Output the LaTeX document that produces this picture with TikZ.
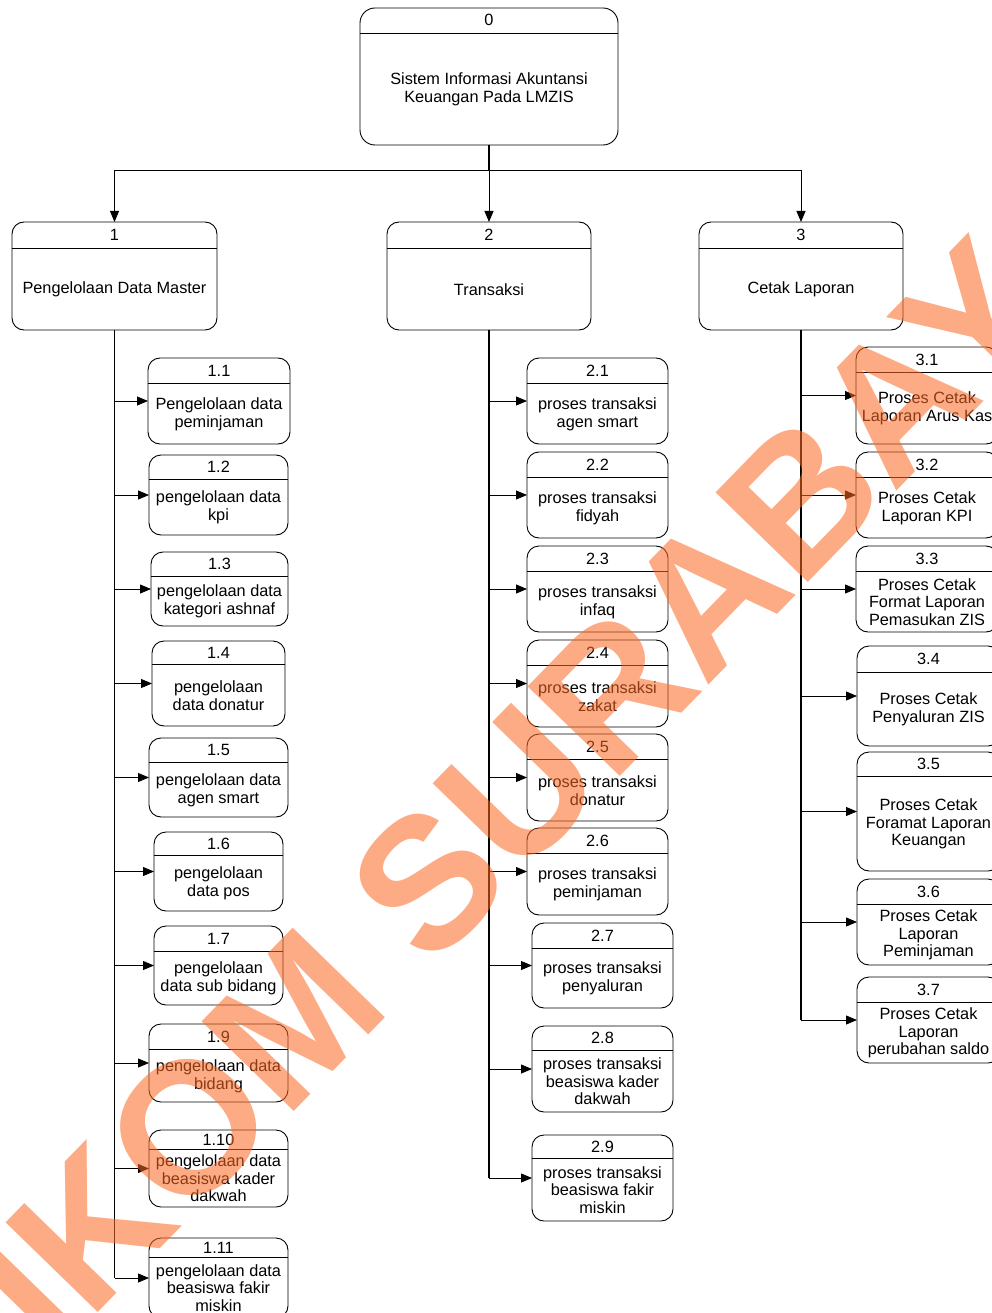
\documentclass[tikz,border=0pt]{standalone}
\usepackage{fontspec}
\setmainfont{Liberation Sans}
\usetikzlibrary{arrows.meta}
\definecolor{wmcol}{RGB}{250,105,35}
\tikzset{
  pbox/.style={draw=black, line width=0.9pt, rounded corners=12pt, inner sep=0pt, outer sep=0pt},
  hline/.style={draw=black, line width=0.9pt},
  ptext/.style={font=\fontsize{16.3}{17.6}\selectfont, align=center, inner sep=0pt},
  trunk/.style={draw=black, line width=1.4pt},
  branch/.style={draw=black, line width=0.8pt, -{Triangle[length=11pt,width=9pt]}},
  wm/.style={text=wmcol, text opacity=0.56, inner sep=0pt, font=\fontsize{187}{187}\selectfont\bfseries}
}
\newcommand{\proc}[8]{%
  \node[pbox, minimum width={(#4-#2)*1pt}, minimum height={(#5-#3)*1pt}] (#1) at ({(#2+#4)/2},{(#3+#5)/2}) {};
  \draw[hline] (#2,#6) -- (#4,#6);
  \node[ptext] (#1-n) at ({(#2+#4)/2},{(#3+#6)/2}) {#7};
  \node[ptext] (#1-t) at ({(#2+#4)/2},{(#6+#5)/2+0.5}) {#8};
}
\begin{document}
\begin{tikzpicture}[x=1pt,y=-1pt]
\useasboundingbox (0,0) rectangle (992,1313);
\clip (0,0) rectangle (992,1313);
% level 0
\node[pbox, rounded corners=15pt, minimum width=258pt, minimum height=137pt] (p0) at (489,76.5) {};
\draw[hline] (360,33) -- (618,33);
\node[ptext] (p0-n) at (489,20) {0};
\node[ptext] (p0-t) at (489,89) {Sistem Informasi Akuntansi\\Keuangan Pada LMZIS};
% level 1
\proc{p1}{12}{222}{217}{330}{248}{1}{Pengelolaan Data Master}
\proc{p2}{387}{222}{591}{330}{248}{2}{Transaksi}
\proc{p3}{699}{222}{903}{330}{248}{3}{Cetak Laporan}
\coordinate (j0) at (489,170);
\draw[trunk] (p0.south) -- (j0);
\draw[branch, line width=0.9pt] (j0) -| (p1.north);
\draw[branch, line width=0.9pt] (j0) -- (p2.north);
\draw[branch, line width=0.9pt] (j0) -| (p3.north);
% column 1
\proc{c11}{148}{358}{290}{444}{383}{1.1}{Pengelolaan data\\peminjaman}
\proc{c12}{149}{455}{288}{535}{479}{1.2}{pengelolaan data\\kpi}
\proc{c13}{151}{552}{288}{626}{576}{1.3}{pengelolaan data\\kategori ashnaf}
\proc{c14}{152}{641}{285}{726}{664}{1.4}{pengelolaan\\data donatur}
\proc{c15}{149}{738}{288}{817}{762}{1.5}{pengelolaan data\\agen smart}
\proc{c16}{154}{832}{283}{911}{855}{1.6}{pengelolaan\\data pos}
\proc{c17}{154}{926}{283}{1005}{951}{1.7}{pengelolaan\\data sub bidang}
\proc{c19}{149}{1024}{288}{1102}{1049}{1.9}{pengelolaan data\\bidang}
\proc{c110}{149}{1130}{288}{1207}{1149}{1.10}{pengelolaan data\\beasiswa kader\\dakwah}
\proc{c111}{149}{1238}{288}{1318}{1257}{1.11}{pengelolaan data\\beasiswa fakir\\miskin}
\draw[trunk] (p1.south) -- (p1.south |- c111.west);
\foreach \c in {c11,c12,c13,c14,c15,c16,c17,c19,c110,c111}
  \draw[branch] (p1.south |- \c.west) -- (\c.west);
% column 2
\proc{c21}{527}{358}{668}{444}{383}{2.1}{proses transaksi\\agen smart}
\proc{c22}{527}{452}{668}{538}{477}{2.2}{proses transaksi\\fidyah}
\proc{c23}{527}{546}{668}{632}{571}{2.3}{proses transaksi\\infaq}
\proc{c24}{527}{640}{668}{727}{665}{2.4}{proses transaksi\\zakat}
\proc{c25}{527}{734}{668}{821}{759}{2.5}{proses transaksi\\donatur}
\proc{c26}{527}{828}{668}{915}{853}{2.6}{proses transaksi\\peminjaman}
\proc{c27}{532}{923}{673}{1008}{948}{2.7}{proses transaksi\\penyaluran}
\proc{c28}{532}{1026}{673}{1112}{1050}{2.8}{proses transaksi\\beasiswa kader\\dakwah}
\proc{c29}{532}{1135}{673}{1221}{1158}{2.9}{proses transaksi\\beasiswa fakir\\miskin}
\draw[trunk] (p2.south) -- (p2.south |- c29.west);
\foreach \c in {c21,c22,c23,c24,c25,c26,c27,c28,c29}
  \draw[branch] (p2.south |- \c.west) -- (\c.west);
% column 3
\proc{c31}{856}{347}{998}{444}{372}{3.1}{Proses Cetak\\Laporan Arus Kas}
\proc{c32}{856}{452}{998}{538}{477}{3.2}{Proses Cetak\\Laporan KPI}
\proc{c33}{856}{546}{998}{632}{571}{3.3}{Proses Cetak\\Format Laporan\\Pemasukan ZIS}
\proc{c34}{857}{646}{1000}{746}{672}{3.4}{Proses Cetak\\Penyaluran ZIS}
\proc{c35}{857}{752}{1000}{871}{776}{3.5}{Proses Cetak\\Foramat Laporan\\Keuangan}
\proc{c36}{857}{879}{1000}{965}{904}{3.6}{Proses Cetak\\Laporan\\Peminjaman}
\proc{c37}{857}{977}{1000}{1063}{1002}{3.7}{Proses Cetak\\Laporan\\perubahan saldo}
\draw[trunk] (p3.south) -- (p3.south |- c37.west);
\foreach \c in {c31,c32,c33,c34,c35,c36,c37}
  \draw[branch] (p3.south |- \c.west) -- (\c.west);
% watermark
\node[wm, rotate=45.8] (wm) at (470,838) {STIKOM SURABAYA};
\end{tikzpicture}
\end{document}
